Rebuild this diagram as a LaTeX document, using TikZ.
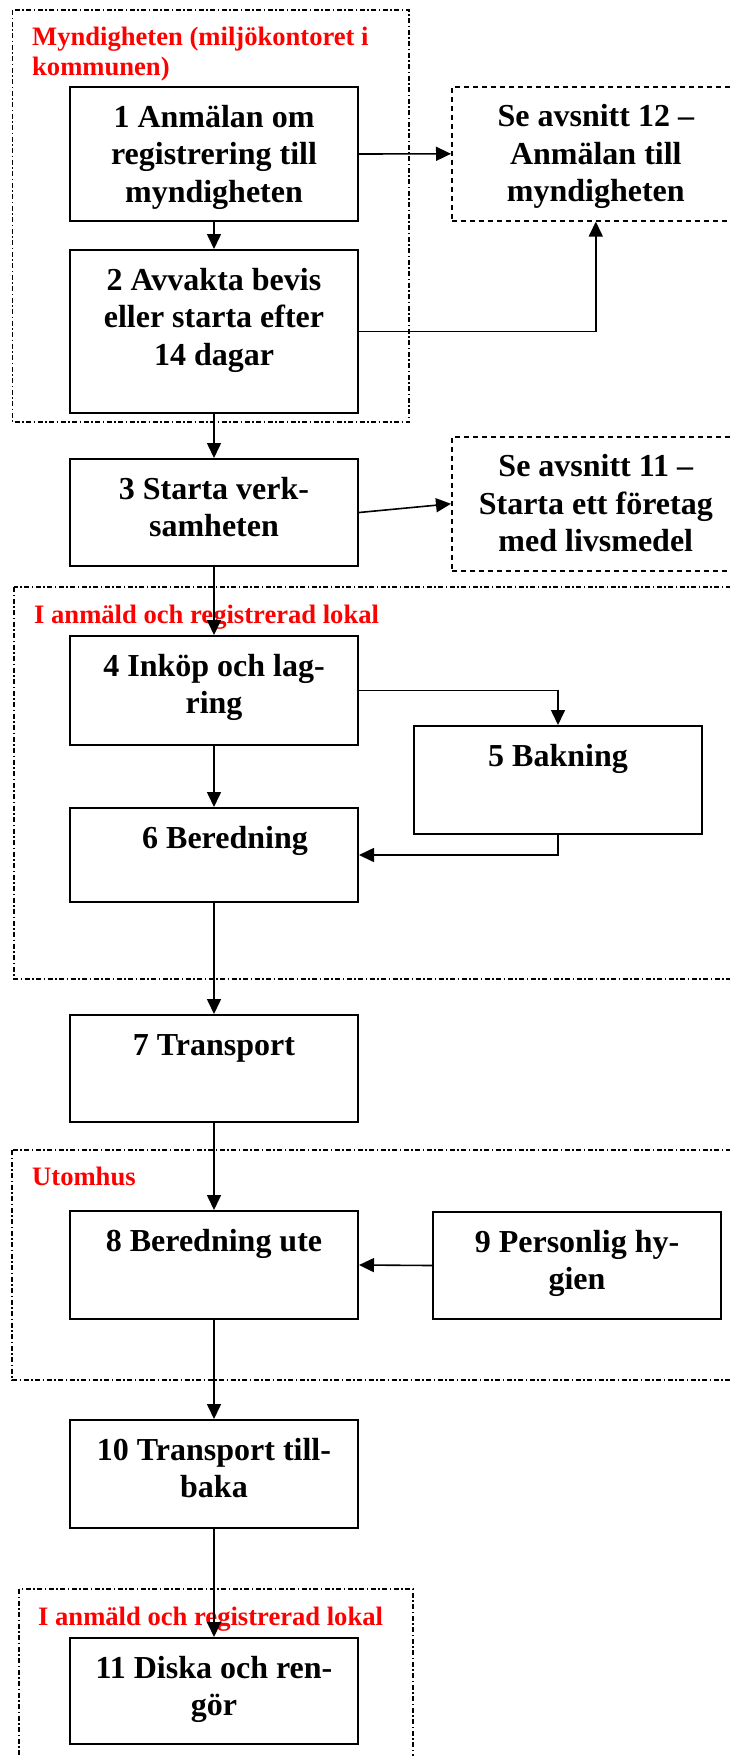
\documentclass[tikz,border=0pt]{standalone}
\usepackage{fontspec}
\setmainfont{Liberation Serif}
\usetikzlibrary{arrows.meta}
\newcommand{\boxtxt}[2]{\parbox[c][#1pt][t]{288pt}{\centering\rule{0pt}{40pt}#2}}
\newcommand{\regiontxt}[1]{\parbox[t]{400pt}{\raggedright #1}}
\begin{document}
\begin{tikzpicture}[x=1pt,y=-1pt,
    box/.style={draw,line width=2pt,inner sep=0pt,anchor=north west,
      font=\bfseries\fontsize{32}{37.5}\selectfont},
    refbox/.style={box,line width=1.6pt,dash pattern=on 5pt off 4pt},
    frame/.style={line width=1.5pt,dash pattern=on 5pt off 2.5pt on 1.5pt off 2.5pt},
    region/.style={inner sep=0pt,anchor=base west,text=red,
      font=\bfseries\fontsize{26.6}{30}\selectfont},
    arr/.style={line width=1.6pt,-{Triangle[length=15pt,width=14pt]}}]
    \useasboundingbox (0,0) rectangle (729,1756);

    % dash-dot frames
    \draw[frame] (12.5,10) rectangle (409,422);
    \draw[frame] (14,587) rectangle (745,979);
    \draw[frame] (12,1150) rectangle (745,1380);
    \draw[frame] (19,1589) rectangle (413,1770);
    \node[region] (myndtxt) at (32,45) {\regiontxt{Myndigheten (miljökontoret i\\kommunen)}};
    \node[region] (lokaltxt) at (34,623) {\regiontxt{I anmäld och registrerad lokal}};
    \node[region] (utetxt) at (32,1185) {\regiontxt{Utomhus}};
    \node[region] (lokaltxtb) at (38,1625) {\regiontxt{I anmäld och registrerad lokal}};

    % steps
    \node[box] (b1) at (69,86) {\boxtxt{134}{1 Anmälan om\\registrering till\\myndigheten}};
    \node[box] (b2) at (69,249) {\boxtxt{163}{2 Avvakta bevis\\eller starta efter\\14 dagar}};
    \node[box] (b3) at (69,458) {\boxtxt{107}{3 Starta verk-\\samheten}};
    \node[box] (b4) at (69,635) {\boxtxt{109}{4 Inköp och lag-\\ring}};
    \node[box] (b5) at (413,725) {\boxtxt{108}{5 Bakning}};
    \node[box] (b6) at (69,807) {\boxtxt{94}{\hspace*{22pt}6 Beredning}};
    \node[box] (b7) at (69,1014) {\boxtxt{107}{7 Transport}};
    \node[box] (b8) at (69,1210) {\boxtxt{108}{8 Beredning ute}};
    \node[box] (b9) at (432,1211) {\boxtxt{107}{9 Personlig hy-\\gien}};
    \node[box] (b10) at (69,1419) {\boxtxt{108}{10 Transport till-\\baka}};
    \node[box] (b11) at (69,1637) {\boxtxt{106}{11 Diska och ren-\\gör}};

    % references
    \node[refbox] (se12) at (451,86) {\boxtxt{134}{Se avsnitt 12 –\\Anmälan till\\myndigheten}};
    \node[refbox] (se11) at (451,436) {\boxtxt{134}{Se avsnitt 11 –\\Starta ett företag\\med livsmedel}};

    \draw[arr] (b1.south)--(b2.north);
    \draw[arr] (b2.south)--(b3.north);
    \draw[arr] (b3.south)--(b4.north);
    \draw[arr] (b4.south)--(b6.north);
    \draw[arr] (b6.south)--(b7.north);
    \draw[arr] (b7.south)--(b8.north);
    \draw[arr] (b8.south)--(b10.north);
    \draw[arr] (b10.south)--(b11.north);
    \draw[arr] (b1.east)--(se12.west);
    \draw[arr] (b2.east)-|(se12.south);
    \draw[arr] (b3.east)--(se11.west);
    \draw[arr] (b4.east)-|(b5.north);
    \draw[arr] (b5.south)|-(b6.east);
    \draw[arr] (b9.west)--(b8.east);
\end{tikzpicture}
\end{document}
